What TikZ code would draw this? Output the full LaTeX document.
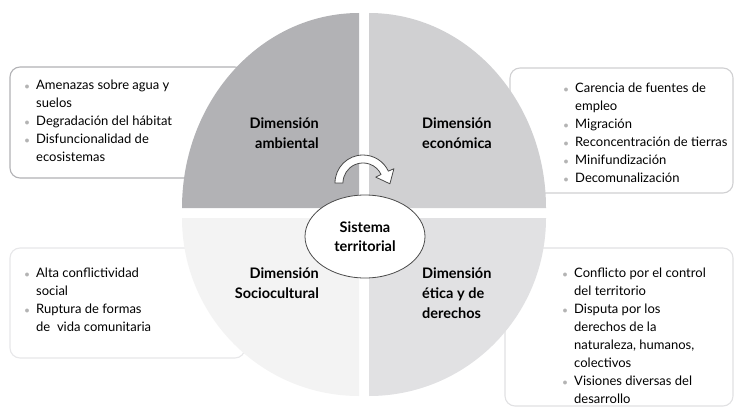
\documentclass[tikz,border=0pt]{standalone}
\usepackage{fontspec}
\setmainfont{Lato}
\usetikzlibrary{shapes.geometric}

\definecolor{quadA}{HTML}{B2B2B5}
\definecolor{quadB}{HTML}{D0D0D2}
\definecolor{quadC}{HTML}{F3F3F3}
\definecolor{quadD}{HTML}{E1E1E3}
\definecolor{dotgray}{HTML}{B4B4B4}
\definecolor{edgegray}{HTML}{4A4A4A}

\newcommand{\itm}{\makebox[11.5pt][l]{\textcolor{dotgray}{\fontsize{10}{10}\selectfont$\bullet$}}}
\newcommand{\cnt}{\hspace*{11.5pt}}

\begin{document}
\begin{tikzpicture}[x=1pt,y=-1pt,
  infobox/.style={draw,rounded corners=10pt,line width=1.1pt,fill=white,inner sep=0pt},
  itemtext/.style={align=left,inner sep=0pt,anchor=north west,font=\fontsize{13}{18}\selectfont},
  dimlabel/.style={inner sep=0pt,font=\fontsize{14.5}{20}\selectfont\bfseries}]
\useasboundingbox (0,0) rectangle (735,409);

% boxes behind the circle
\node[infobox,draw=quadA,minimum width=235pt,minimum height=111pt] (ambbox) at (127.5,122.5) {};
\node[infobox,draw=quadB,minimum width=223pt,minimum height=125pt] (ecobox) at (621.5,130.5) {};
\node[infobox,draw=quadD!80!white,minimum width=235pt,minimum height=110pt] (socbox) at (127.5,303) {};
\node[infobox,draw=quadD,minimum width=228pt,minimum height=158pt] (etibox) at (619,327) {};

% the four quarters
\fill[quadA] (359,208) -- (182,208) arc[start angle=180,end angle=270,x radius=177,y radius=195] -- cycle;
\fill[quadB] (369,208) -- (369,13) arc[start angle=270,end angle=360,x radius=177,y radius=195] -- cycle;
\fill[quadC] (359,218) -- (182,218) arc[start angle=180,end angle=90,x radius=177,y radius=178] -- cycle;
\fill[quadD] (369,218) -- (546,218) arc[start angle=0,end angle=90,x radius=177,y radius=178] -- cycle;

% turning arrow
\draw[fill=white,draw=edgegray,line width=0.8pt,line join=round]
  (335,183) arc[start angle=180,end angle=335,radius=28] -- (393.9,168.7) -- (389.9,183.8)
  -- (375.7,177.1) -- (381.1,174.5) arc[start angle=335,end angle=180,radius=20] -- cycle;

\node[ellipse,draw=edgegray,fill=white,line width=0.8pt,minimum width=120pt,minimum height=83pt,inner sep=0pt,
  align=center,font=\fontsize{14.5}{19}\selectfont\bfseries] (sist) at (365,236.5) {Sistema\\territorial};

\node[dimlabel,align=right,anchor=north east] (amb) at (319,117.5) {Dimensión\\ambiental};
\node[dimlabel,align=left,anchor=north west] (eco) at (422,117.5) {Dimensión\\económica};
\node[dimlabel,align=right,anchor=north east] (soc) at (319,267.5) {Dimensión\\Sociocultural};
\node[dimlabel,align=left,anchor=north west] (eti) at (422,267.5) {Dimensión\\ética y de\\derechos};

\node[itemtext] (ambtxt) at (24.5,79.3) {\itm Amenazas sobre agua y\\\cnt suelos\\\itm Degradación del hábitat\\\itm Disfuncionalidad de\\\cnt ecosistemas};
\node[itemtext] (ecotxt) at (563.5,83) {\itm Carencia de fuentes de\\\cnt empleo\\\itm Migración\\\itm Reconcentración de tierras\\\itm Minifundización\\\itm Decomunalización};
\node[itemtext] (soctxt) at (24.5,267.8) {\itm Alta conflictividad\\\cnt social\\\itm Ruptura de formas\\\cnt de\ \ vida comunitaria};
\node[itemtext] (etitxt) at (562.5,268) {\itm Conflicto por el control\\\cnt del territorio\\\itm Disputa por los\\\cnt derechos de la\\\cnt naturaleza, humanos,\\\cnt colectivos\\\itm Visiones diversas del\\\cnt desarrollo};
\end{tikzpicture}
\end{document}
